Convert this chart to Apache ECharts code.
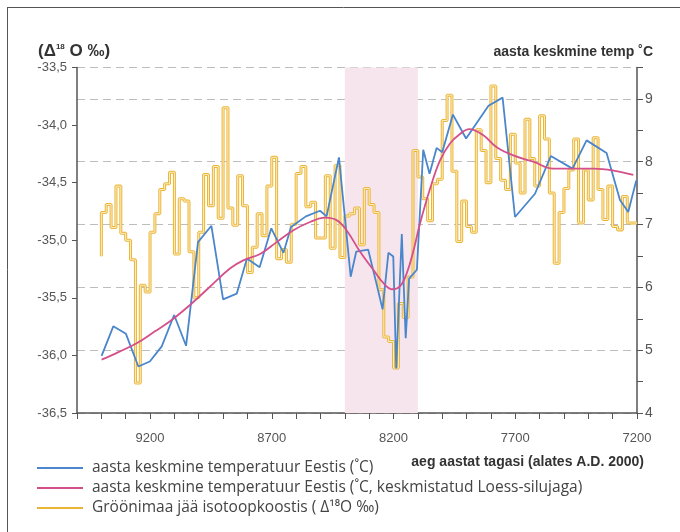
<!DOCTYPE html>
<html><head><meta charset="utf-8">
<script src="https://cdn.jsdelivr.net/npm/echarts@6/dist/echarts.min.js"></script>
<style>html,body{margin:0;padding:0;background:#fff}#c{width:680px;height:532px}</style>
</head><body><div id="c"></div>
<script>
// Greenland ice isotope record (left axis), 20-year steps
const goldYears = [9400,9380,9360,9340,9320,9300,9280,9260,9240,9220,9200,9180,9160,9140,9120,9100,9080,9060,9040,9020,
  9000,8980,8960,8940,8920,8900,8880,8860,8840,8820,8800,8780,8760,8740,8720,8700,8680,8660,8640,8620,
  8600,8580,8560,8540,8520,8500,8480,8460,8440,8420,8400,8380,8360,8340,8320,8300,8280,8260,8240,8220,
  8200,8180,8160,8140,8120,8100,8080,8060,8040,8020,8000,7980,7960,7940,7920,7900,7880,7860,7840,7820,
  7800,7780,7760,7740,7720,7700,7680,7660,7640,7620,7600,7580,7560,7540,7520,7500,7480,7460,7440,7420,
  7400,7380,7360,7340,7320,7300,7280,7260,7240,7220,7200];
const goldIsotope = [-35.14,-34.76,-34.69,-34.89,-34.53,-34.94,-35.00,-35.17,-36.24,-35.39,-35.45,-34.93,-34.77,-34.56,-34.51,-34.41,-35.12,-34.64,-34.66,-35.10,
  -35.50,-34.93,-34.43,-34.70,-34.36,-34.81,-33.85,-34.72,-34.87,-34.44,-34.70,-35.28,-35.06,-34.77,-34.96,-34.53,-34.28,-35.16,-35.08,-35.19,
  -34.86,-34.42,-34.36,-34.71,-34.67,-34.98,-34.98,-34.44,-35.07,-34.35,-35.15,-34.79,-34.77,-34.72,-35.04,-34.55,-34.69,-34.76,-35.43,-35.84,
  -35.88,-36.11,-35.55,-35.67,-35.32,-34.22,-34.45,-34.64,-34.83,-34.51,-34.47,-33.96,-33.74,-34.40,-35.01,-34.66,-34.88,-34.93,-34.04,-34.22,
  -34.50,-33.66,-34.29,-34.48,-34.56,-34.08,-34.33,-34.59,-33.95,-34.29,-34.53,-33.92,-34.12,-34.59,-35.20,-34.76,-34.55,-34.39,-34.12,-34.85,
  -34.39,-34.65,-34.11,-34.56,-34.82,-34.53,-34.88,-34.91,-34.62,-34.85,-34.85];

// Annual mean temperature in Estonia (right axis)
const tempYears = [9399,9351,9299,9248,9201,9152,9101,9052,9003,8948,8900,8844,8802,8750,8702,8652,8621,8560,8502,8475,
  8424,8376,8353,8304,8270,8245,8221,8201,8189,8166,8150,8136,8104,8078,8052,8023,8000,7956,7902,7810,
  7752,7701,7619,7554,7465,7407,7325,7270,7236,7203];
const tempAnnual = [4.91,5.38,5.26,4.74,4.82,5.06,5.56,5.07,6.72,6.98,5.81,5.90,6.46,6.32,6.94,6.55,6.96,7.13,7.22,7.13,
  8.07,6.17,6.57,6.60,6.06,5.65,6.55,6.49,4.71,6.85,5.19,6.14,6.28,8.19,7.81,8.22,8.15,8.75,8.37,8.89,
  9.02,7.12,7.49,8.09,7.89,8.34,8.14,7.39,7.20,7.70];

// Loess-smoothed temperature (right axis)
const smoothYears = [9399,9330,9255,9180,9118,9036,8954,8872,8817,8748,8680,8611,8543,8481,8434,8393,8338,8283,8242,8205,
  8173,8146,8119,8091,8050,8009,7968,7927,7889,7831,7776,7708,7626,7544,7461,7379,7297,7215];
const smoothTemp = [4.85,4.97,5.11,5.30,5.46,5.72,6.01,6.30,6.43,6.53,6.72,6.91,7.04,7.11,7.07,6.91,6.57,6.28,6.07,5.97,
  6.02,6.22,6.57,7.02,7.57,8.02,8.29,8.44,8.52,8.42,8.23,8.10,8.00,7.89,7.89,7.89,7.86,7.79];

const xTickLabels = [9200, 8700, 8200, 7700, 7200];
const eventBand = [8400, 8100];
const seriesNames = [
  'aasta keskmine temperatuur Eestis (˚C)',
  'aasta keskmine temperatuur Eestis (˚C, keskmistatud Loess-silujaga)',
  'Gröönimaa jää isotoopkoostis ( Δ¹⁸O ‰)'
];

const FONT = "'Liberation Sans', Arial, sans-serif";
const LEGEND_FONT = "'Open Sans', 'Liberation Sans', sans-serif";
const zip = (xs, ys) => xs.map((x, i) => [x, ys[i]]);
const goldData = zip(goldYears, goldIsotope);

const chart = echarts.init(document.getElementById('c'), null, {renderer: 'canvas'});
chart.setOption({
  animation: false,
  backgroundColor: '#fff',
  textStyle: {fontFamily: FONT},
  grid: {left: 77, right: 43, top: 67.5, bottom: 119},
  legend: {
    data: seriesNames,
    orient: 'vertical', left: 32, top: 455,
    itemWidth: 46, itemHeight: 2, itemGap: 4, icon: 'rect',
    textStyle: {fontSize: 15.5, color: '#444', fontFamily: LEGEND_FONT, padding: [0, 0, 0, 4]}
  },
  xAxis: {
    type: 'value', min: 7200, max: 9500, interval: 100, inverse: true,
    axisLine: {lineStyle: {color: '#555', width: 1.5}},
    axisTick: {length: 6, lineStyle: {color: '#555'}},
    axisLabel: {margin: 19, fontSize: 13, color: '#555', fontFamily: FONT,
      formatter: v => xTickLabels.indexOf(v) >= 0 ? String(v) : ''},
    splitLine: {show: false}
  },
  yAxis: [
    {
      type: 'value', position: 'left', min: -36.5, max: -33.5, interval: 0.5,
      axisLine: {show: true, lineStyle: {color: '#555', width: 1.5}},
      axisTick: {show: true, length: 5, lineStyle: {color: '#555'}},
      axisLabel: {margin: 10, fontSize: 13, color: '#555', fontFamily: FONT,
        formatter: v => v.toFixed(1).replace('.', ',')},
      splitLine: {show: false}
    },
    {
      type: 'value', position: 'right', min: 4, max: 9.5, interval: 1,
      axisLine: {show: true, lineStyle: {color: '#555', width: 1.5}},
      axisTick: {show: true, length: 6, lineStyle: {color: '#555'}},
      minorTick: {show: true, splitNumber: 2, length: 6, lineStyle: {color: '#555'}},
      axisLabel: {margin: 8, fontSize: 14, color: '#555', fontFamily: FONT,
        formatter: v => (v === 9.5 ? '' : String(v))},
      splitLine: {show: true, lineStyle: {color: '#bdbdbd', type: [8, 5], width: 1}}
    }
  ],
  series: [
    {
      name: seriesNames[2], type: 'line', yAxisIndex: 0, step: 'start', data: goldData,
      showSymbol: false, lineStyle: {color: '#ebb535', width: 3}, itemStyle: {color: '#ebb535'},
      z: 2,
      markArea: {silent: true, itemStyle: {color: '#f6e5ed'},
        data: [[{xAxis: eventBand[0]}, {xAxis: eventBand[1]}]]}
    },
    {
      name: 'gold-inner', type: 'line', yAxisIndex: 0, step: 'start', data: goldData,
      showSymbol: false, silent: true, lineStyle: {color: '#fcefc8', width: 1}, z: 3
    },
    {
      name: seriesNames[0], type: 'line', yAxisIndex: 1, data: zip(tempYears, tempAnnual),
      showSymbol: false, lineStyle: {color: '#4a86cb', width: 1.8}, itemStyle: {color: '#4a86cb'}, z: 4
    },
    {
      name: seriesNames[1], type: 'line', yAxisIndex: 1, data: zip(smoothYears, smoothTemp), smooth: 0.4,
      showSymbol: false, lineStyle: {color: '#d4508a', width: 1.8}, itemStyle: {color: '#d4508a'}, z: 5
    }
  ],
  graphic: [
    {type: 'line', shape: {x1: 7.5, y1: 7, x2: 7.5, y2: 532}, style: {stroke: '#555', lineWidth: 1}},
    {type: 'line', shape: {x1: 7, y1: 7.5, x2: 680, y2: 7.5}, style: {stroke: '#555', lineWidth: 1}},
    {type: 'text', x: 38, y: 51, style: {
      text: '(Δ{sup|18} O ‰)', fontSize: 17, fontWeight: 'bold', fill: '#333', fontFamily: FONT,
      verticalAlign: 'middle',
      rich: {sup: {fontSize: 8, fontWeight: 'bold', fill: '#333', verticalAlign: 'top', padding: [0, 0, 8, 0]}}
    }},
    {type: 'text', x: 653, y: 52, style: {
      text: 'aasta keskmine temp ˚C', fontSize: 14, fontWeight: 'bold', fill: '#333', fontFamily: FONT,
      align: 'right', verticalAlign: 'middle'}},
    {type: 'text', x: 644, y: 462, style: {
      text: 'aeg aastat tagasi (alates A.D. 2000)', fontSize: 14, fontWeight: 'bold', fill: '#333', fontFamily: FONT,
      align: 'right', verticalAlign: 'middle'}}
  ]
});
</script></body></html>
